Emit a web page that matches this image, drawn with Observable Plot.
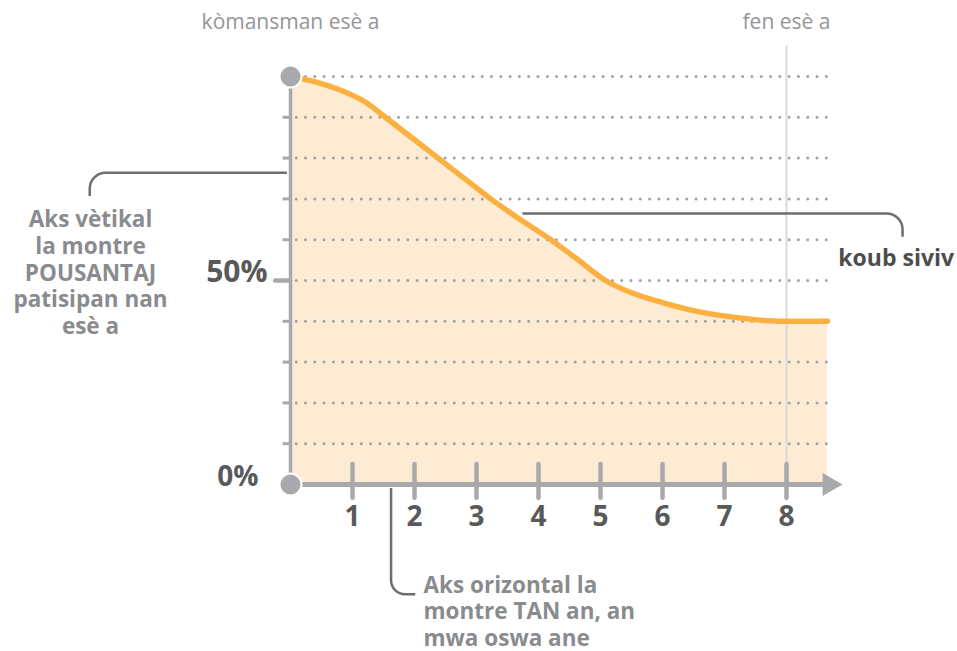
<!DOCTYPE html>
<html>
<head>
<meta charset="utf-8">
<script src="https://cdn.jsdelivr.net/npm/d3@7"></script>
<script src="https://cdn.jsdelivr.net/npm/@observablehq/plot@0.6"></script>
<style>
  html, body { margin: 0; padding: 0; background: #fff; }
  #chart svg { display: block; overflow: visible; }
</style>
</head>
<body>
<div id="chart"></div>
<script>
// ---- data ----
const curveX = [0, 0.4, 0.8, 1.2, 1.53, 2, 2.38, 3, 3.23, 3.7, 4.2, 4.6, 5.08, 5.5, 6, 6.6, 7.2, 7.95, 8.66];
const curveY = [100, 98.7, 96.7, 93.8, 90, 84.5, 80, 72.7, 70, 65, 60, 55.5, 50, 47, 44.6, 42.3, 40.9, 40, 40];
const xTicks = [1, 2, 3, 4, 5, 6, 7, 8];
const xTickLabels = ["1", "2", "3", "4", "5", "6", "7", "8"];
const gridPct = [10, 20, 30, 40, 50, 60, 70, 80, 90, 100];
const yLabelValues = [50, 0];
const yLabelTexts = ["50%", "0%"];
const startLabel = "kòmansman esè a";
const endLabel = "fen esè a";
const endX = 8;
const xMax = 8.68;
const vertNote = "Aks vètikal\nla montre\nPOUSANTAJ\npatisipan nan\nesè a";
const horizNote = "Aks orizontal la\nmontre TAN an, an\nmwa oswa ane";
const curveNote = "koub siviv";
// leader anchors in data units: [start, corner, end]
const vertLeader = [[-3.23, 70.6], [-3.23, 76.3], [-0.05, 76.3]];
const curveLeader = [[3.75, 66.3], [9.88, 66.3], [9.88, 60.6]];
const horizLeader = [[1.63, -1.0], [1.63, -27.0], [2.02, -27.0]];

const curve = curveX.map((x, i) => ({x, y: curveY[i]}));

const axisGray = "#a7a9ac";
const darkText = "#58595b";
const noteText = "#8a8b8e";
const font = "'Open Sans', sans-serif";

function leader(pts, radius) {
  return (index, {x, y}) => {
    const p = pts.map(([a, b]) => [x(a), y(b)]);
    const path = d3.path();
    path.moveTo(p[0][0], p[0][1]);
    path.arcTo(p[1][0], p[1][1], p[2][0], p[2][1], radius);
    path.lineTo(p[2][0], p[2][1]);
    const el = document.createElementNS("http://www.w3.org/2000/svg", "path");
    el.setAttribute("d", path.toString());
    el.setAttribute("fill", "none");
    el.setAttribute("stroke", "#6d6e71");
    el.setAttribute("stroke-width", "2.5");
    return el;
  };
}

const chart = Plot.plot({
  width: 957,
  height: 651,
  style: {fontFamily: font, background: "#fff", overflow: "visible"},
  x: {domain: [0, 8], range: [290, 786], axis: null},
  y: {domain: [0, 100], range: [484, 76], axis: null},
  marks: [
    Plot.areaY(curve, {x: "x", y: "y", fill: "#fdebd3", curve: "monotone-x"}),
    Plot.ruleY(gridPct, {x1: 0.1, x2: xMax + 0.03, stroke: "#a0a2a6", strokeWidth: 3, strokeDasharray: "0,9.3", strokeLinecap: "round"}),
    Plot.ruleX([endX], {y1: 0, y2: 107.4, stroke: "#d9dadc", strokeWidth: 2}),
    // y ticks
    Plot.ruleY(gridPct.filter(d => d !== 50), {x1: -0.12, x2: 0, stroke: axisGray, strokeWidth: 3}),
    Plot.ruleY([50], {x1: -0.24, x2: 0, stroke: axisGray, strokeWidth: 4.5, strokeLinecap: "round"}),
    Plot.ruleX([0], {y1: 0, y2: 100, stroke: axisGray, strokeWidth: 3.5}),
    // leaders
    leader(vertLeader, 16),
    leader(curveLeader, 16),
    leader(horizLeader, 14),
    Plot.line(curve, {x: "x", y: "y", stroke: "#fbb040", strokeWidth: 5.5, curve: "monotone-x", strokeLinecap: "round"}),
    // x axis with arrow
    Plot.ruleY([0], {x1: 0, x2: 8.6, stroke: axisGray, strokeWidth: 5}),
    Plot.dot([{x: 8.69, y: 0}], {x: "x", y: "y", symbol: "triangle", rotate: 90, r: 8.55, fill: axisGray, stroke: null}),
    Plot.ruleX(xTicks, {y1: -3.4, y2: 4.9, stroke: axisGray, strokeWidth: 4.5, strokeLinecap: "round"}),
    Plot.text(xTicks, {x: d => d, y: -7.9, text: (d, i) => xTickLabels[i], fontSize: 28, fontWeight: "bold", fill: darkText}),
    // endpoints
    Plot.dot([{x: 0, y: 0}, {x: 0, y: 100}], {x: "x", y: "y", r: 11, fill: axisGray, stroke: "#fff", strokeWidth: 2}),
    // y labels
    Plot.text([yLabelValues[0]], {x: 0, y: d => d, text: [yLabelTexts[0]], textAnchor: "end", dx: -23, dy: -8, fontSize: 30, fontWeight: "bold", fill: darkText}),
    Plot.text([yLabelValues[1]], {x: 0, y: d => d, text: [yLabelTexts[1]], textAnchor: "end", dx: -32, dy: -7, fontSize: 28, fontWeight: "bold", fill: darkText}),
    // top labels
    Plot.text([startLabel], {x: 0, y: 113.2, text: d => d, fontSize: 21, fill: "#939598"}),
    Plot.text([endLabel], {x: endX, y: 113.2, text: d => d, fontSize: 21, fill: "#939598"}),
    // notes
    Plot.text([vertNote], {x: -3.226, y: 52.1, text: d => d, fontSize: 22.5, lineHeight: 1.19, fontWeight: "bold", fill: noteText}),
    Plot.text([horizNote], {x: 2.145, y: -30.9, text: d => d, textAnchor: "start", fontSize: 22.5, lineHeight: 1.18, fontWeight: "bold", fill: noteText}),
    Plot.text([curveNote], {x: 9.77, y: 55.3, text: d => d, fontSize: 23, fontWeight: "bold", fill: "#4d4d4f"})
  ]
});
document.getElementById("chart").append(chart);
</script>
</body>
</html>
